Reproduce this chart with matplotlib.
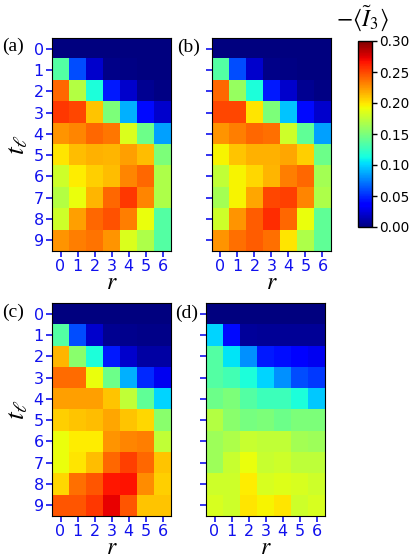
import numpy as np
import matplotlib
matplotlib.use("Agg")
import matplotlib.pyplot as plt

plt.rcParams['mathtext.fontset'] = 'stix'

# --------------------------------------------------
# data: -<I3> for t_l = 0..9 (rows) and r = 0..6 (cols)
# --------------------------------------------------
r_vals = [0, 1, 2, 3, 4, 5, 6]
t_vals = [0, 1, 2, 3, 4, 5, 6, 7, 8, 9]

panel_a = [
    [0.000, 0.000, 0.000, 0.000, 0.000, 0.000, 0.000],
    [0.135, 0.060, 0.020, 0.003, 0.002, 0.001, 0.001],
    [0.240, 0.170, 0.115, 0.045, 0.020, 0.005, 0.002],
    [0.255, 0.250, 0.210, 0.150, 0.090, 0.040, 0.020],
    [0.225, 0.230, 0.240, 0.235, 0.185, 0.145, 0.085],
    [0.200, 0.213, 0.216, 0.215, 0.222, 0.213, 0.150],
    [0.180, 0.197, 0.207, 0.213, 0.230, 0.240, 0.168],
    [0.170, 0.190, 0.215, 0.240, 0.255, 0.230, 0.168],
    [0.180, 0.222, 0.240, 0.247, 0.233, 0.190, 0.135],
    [0.225, 0.233, 0.236, 0.225, 0.185, 0.168, 0.135],
]

panel_b = [
    [0.000, 0.000, 0.000, 0.000, 0.000, 0.000, 0.000],
    [0.135, 0.060, 0.020, 0.003, 0.002, 0.001, 0.001],
    [0.240, 0.160, 0.115, 0.045, 0.020, 0.005, 0.002],
    [0.250, 0.250, 0.200, 0.150, 0.095, 0.040, 0.020],
    [0.225, 0.233, 0.240, 0.237, 0.180, 0.140, 0.085],
    [0.195, 0.210, 0.216, 0.216, 0.220, 0.207, 0.145],
    [0.175, 0.195, 0.205, 0.215, 0.233, 0.240, 0.165],
    [0.165, 0.195, 0.220, 0.250, 0.252, 0.230, 0.168],
    [0.180, 0.225, 0.243, 0.258, 0.240, 0.190, 0.140],
    [0.225, 0.237, 0.243, 0.237, 0.200, 0.168, 0.140],
]

panel_c = [
    [0.000, 0.000, 0.000, 0.000, 0.000, 0.000, 0.000],
    [0.135, 0.060, 0.020, 0.005, 0.004, 0.003, 0.003],
    [0.215, 0.155, 0.115, 0.045, 0.020, 0.010, 0.010],
    [0.238, 0.238, 0.190, 0.145, 0.090, 0.050, 0.030],
    [0.222, 0.222, 0.222, 0.210, 0.175, 0.140, 0.100],
    [0.207, 0.210, 0.213, 0.220, 0.210, 0.205, 0.155],
    [0.190, 0.198, 0.198, 0.225, 0.230, 0.233, 0.175],
    [0.190, 0.200, 0.213, 0.240, 0.252, 0.240, 0.210],
    [0.205, 0.237, 0.245, 0.265, 0.267, 0.228, 0.207],
    [0.245, 0.245, 0.255, 0.273, 0.245, 0.210, 0.210],
]

panel_d = [
    [0.000, 0.000, 0.000, 0.000, 0.000, 0.000, 0.000],
    [0.100, 0.040, 0.008, 0.006, 0.006, 0.006, 0.006],
    [0.135, 0.105, 0.080, 0.045, 0.042, 0.035, 0.030],
    [0.135, 0.130, 0.115, 0.100, 0.080, 0.060, 0.055],
    [0.145, 0.150, 0.135, 0.127, 0.127, 0.115, 0.097],
    [0.170, 0.155, 0.148, 0.150, 0.145, 0.150, 0.150],
    [0.162, 0.168, 0.177, 0.175, 0.175, 0.165, 0.162],
    [0.162, 0.177, 0.190, 0.177, 0.180, 0.174, 0.174],
    [0.180, 0.180, 0.198, 0.183, 0.186, 0.183, 0.180],
    [0.183, 0.180, 0.200, 0.195, 0.200, 0.180, 0.183],
]

panel_names = ["(a)", "(b)", "(c)", "(d)"]
cbar_ticks = [0.00, 0.05, 0.10, 0.15, 0.20, 0.25, 0.30]

W, H = 409, 556
VMIN, VMAX = 0.0, 0.30
TICK_BLUE = "#1010ee"


def px_axes(fig, x0, y0, x1, y1):
    # axes from pixel box (top-left origin)
    return fig.add_axes([x0 / W, 1 - y1 / H, (x1 - x0) / W, (y1 - y0) / H])


fig = plt.figure(figsize=(W / 100, H / 100), dpi=100)

boxes = [
    (52, 38, 171, 251),
    (212, 38, 331, 251),
    (52, 303, 171, 516),
    (206, 303, 325, 516),
]
# left edge / vertical centre of the panel letters, in pixels
label_pos = [(2, 46), (177, 47), (2, 312), (175, 313)]

for k, (data, name, box) in enumerate(zip([panel_a, panel_b, panel_c, panel_d],
                                          panel_names, boxes)):
    ax = px_axes(fig, *box)
    im = ax.imshow(np.array(data), cmap="jet", vmin=VMIN, vmax=VMAX,
                   aspect="auto", interpolation="nearest")

    ax.set_xticks(range(len(r_vals)))
    ax.set_xticklabels([str(v) for v in r_vals])
    ax.set_yticks(range(len(t_vals)))
    if k % 2 == 0:
        ax.set_yticklabels([str(v) for v in t_vals])
        ax.set_ylabel(r"$t_\ell$", fontsize=20, labelpad=2)
    else:
        ax.set_yticklabels([])
    ax.tick_params(colors=TICK_BLUE, labelsize=11.5, length=4, width=1.2, pad=2)
    ax.set_xlabel(r"$r$", fontsize=17, labelpad=-3)

    lx, ly = label_pos[k]
    fig.text(lx / W, 1 - ly / H, name, family="Liberation Serif",
             fontsize=14, ha="left", va="center")

# colorbar
cax = px_axes(fig, 358, 41, 372, 227)
cb = fig.colorbar(im, cax=cax, ticks=cbar_ticks)
cb.ax.set_yticklabels([f"{v:.2f}" for v in cbar_ticks])
cb.ax.tick_params(labelsize=9.8, length=3.5, width=1, pad=1.5)
cb.outline.set_linewidth(1)
fig.text(362 / W, 1 - 18 / H, r"$-\langle\tilde{I}_3\rangle$", fontsize=17,
         ha="center", va="center")

fig.savefig("out.png", dpi=100)
